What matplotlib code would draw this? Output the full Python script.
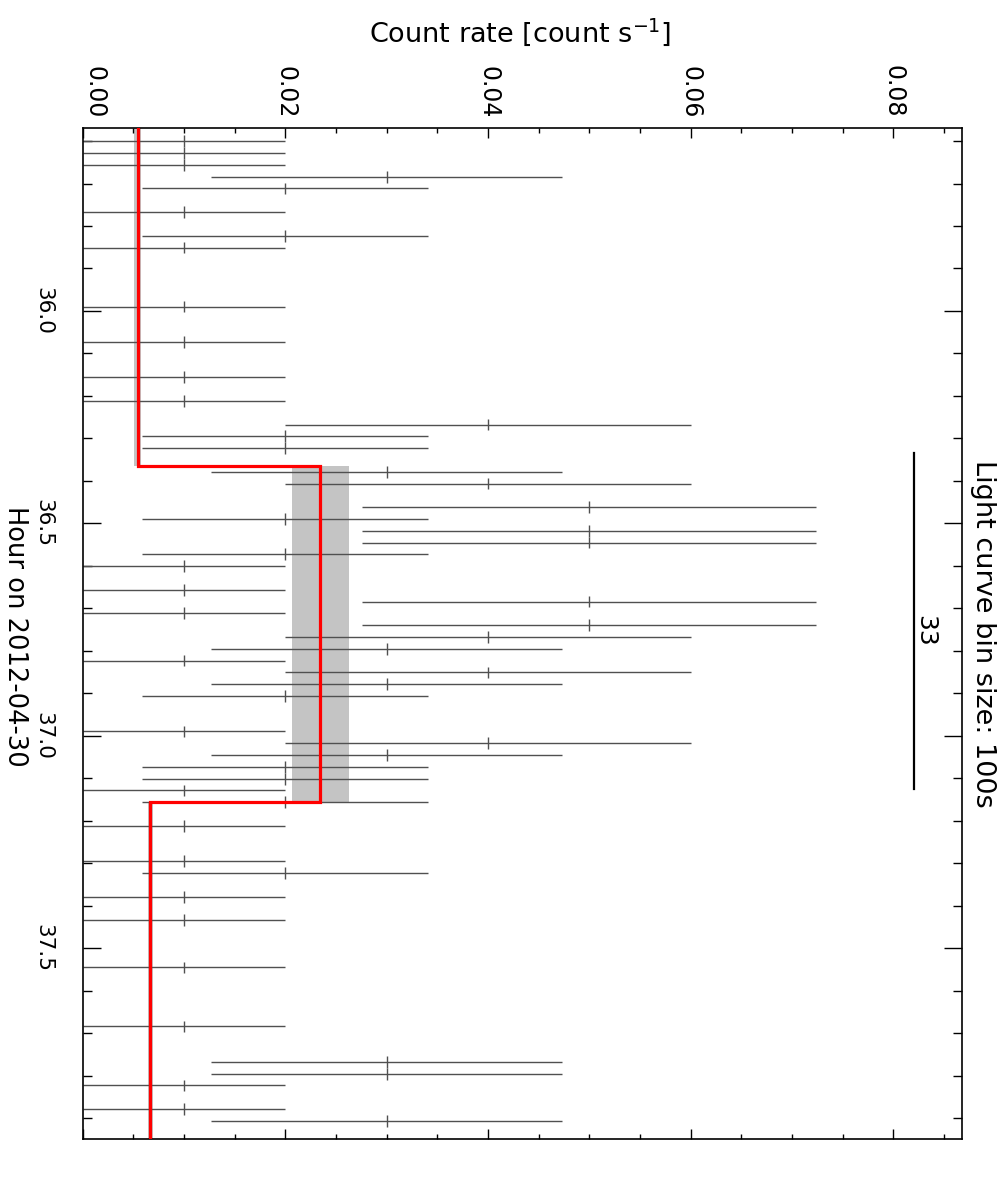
import numpy as np
import matplotlib
matplotlib.use("Agg")
import matplotlib.pyplot as plt
from matplotlib.ticker import MultipleLocator

plt.rcParams['font.family'] = ['DejaVu Sans']

# ---- data ----
# bin centre times (hour on 2012-04-30) and count rates (count/s), 100 s bins
bin_time = [35.6006, 35.6284, 35.6561, 35.6839, 35.7117, 35.7673, 35.8228, 35.8506,
            35.9895, 36.0728, 36.1562, 36.2117, 36.2673, 36.2950, 36.3228, 36.3784,
            36.4062, 36.4617, 36.4895, 36.5173, 36.5450, 36.5728, 36.6006, 36.6562,
            36.6839, 36.7117, 36.7395, 36.7673, 36.7950, 36.8228, 36.8506, 36.8784,
            36.9062, 36.9895, 37.0173, 37.0450, 37.0728, 37.1006, 37.1284, 37.1562,
            37.2117, 37.2950, 37.3228, 37.3784, 37.4339, 37.5450, 37.6839, 37.7673,
            37.7950, 37.8228, 37.8784, 37.9062]
bin_rate = [0.01, 0.01, 0.01, 0.03, 0.02, 0.01, 0.02, 0.01,
            0.01, 0.01, 0.01, 0.01, 0.04, 0.02, 0.02, 0.03,
            0.04, 0.05, 0.02, 0.05, 0.05, 0.02, 0.01, 0.01,
            0.05, 0.01, 0.05, 0.04, 0.03, 0.01, 0.04, 0.03,
            0.02, 0.01, 0.04, 0.03, 0.02, 0.02, 0.01, 0.02,
            0.01, 0.01, 0.02, 0.01, 0.01, 0.01, 0.01, 0.03,
            0.03, 0.01, 0.01, 0.03]
bin_err = [0.0100, 0.0100, 0.0100, 0.0173, 0.0141, 0.0100, 0.0141, 0.0100,
           0.0100, 0.0100, 0.0100, 0.0100, 0.0200, 0.0141, 0.0141, 0.0173,
           0.0200, 0.0224, 0.0141, 0.0224, 0.0224, 0.0141, 0.0100, 0.0100,
           0.0224, 0.0100, 0.0224, 0.0200, 0.0173, 0.0100, 0.0200, 0.0173,
           0.0141, 0.0100, 0.0200, 0.0173, 0.0141, 0.0141, 0.0100, 0.0141,
           0.0100, 0.0100, 0.0141, 0.0100, 0.0100, 0.0100, 0.0100, 0.0173,
           0.0173, 0.0100, 0.0100, 0.0173]
bin_halfwidth_hr = 50.0 / 3600.0

# Bayesian-block style segments
block_edges = [35.5705, 36.3641, 37.1563, 37.9487]
block_rate = [0.00543, 0.02342, 0.00664]
block_lo = [0.00505, 0.02063, 0.00642]
block_hi = [0.00580, 0.02625, 0.00690]

# scale bar
scalebar_rate = [0.0820, 0.0820]
scalebar_time = [36.3349, 37.1257]
scalebar_label = "33"

rate_ticks = [0.00, 0.02, 0.04, 0.06, 0.08]
rate_ticklabels = ["0.00", "0.02", "0.04", "0.06", "0.08"]
time_ticks = [36.0, 36.5, 37.0, 37.5]
time_ticklabels = ["36.0", "36.5", "37.0", "37.5"]

# ---- figure ----
fig = plt.figure(figsize=(10.03, 11.80), dpi=100)
ax = fig.add_axes([0.08245, 0.03475, 0.8764, 0.85636])

# grey uncertainty bands of the blocks
for i in range(len(block_rate)):
    ax.fill_betweenx([block_edges[i], block_edges[i + 1]], block_lo[i], block_hi[i],
                     color='#c4c4c4', lw=0, zorder=1)

# data error bars
ax.errorbar(bin_rate, bin_time, xerr=bin_err, yerr=bin_halfwidth_hr, fmt='none',
            ecolor='#505050', elinewidth=1.0, capsize=0, zorder=2)

# red block line (rotated step)
ys = np.repeat(block_edges, 2)[1:-1]
xs = np.repeat(block_rate, 2)
ax.plot(xs, ys, color='#ff0000', lw=2.3, zorder=3, solid_joinstyle='miter')

# scale bar
ax.plot(scalebar_rate, scalebar_time, color='black', lw=1.6, zorder=3)
ax.text(0.0831, 36.753, scalebar_label, rotation=-90, ha='center', va='center',
        fontsize=18, color='black')

ax.set_xlim(0, 0.08675)
ax.set_ylim(block_edges[-1], block_edges[0])

ax.set_xticks(rate_ticks, labels=rate_ticklabels, rotation=-90, fontsize=17)
ax.set_yticks(time_ticks, labels=time_ticklabels, rotation=-90, va='center', fontsize=15.5)
ax.xaxis.set_minor_locator(MultipleLocator(0.005))
ax.yaxis.set_minor_locator(MultipleLocator(0.1))

ax.tick_params(axis='both', which='both', direction='in', top=True, bottom=True,
               left=True, right=True, labeltop=True, labelbottom=False,
               labelleft=True, labelright=False, color='black', width=1.0)
ax.tick_params(axis='x', which='major', length=7.2, pad=7.6)
ax.tick_params(axis='x', which='minor', length=3.6)
ax.tick_params(axis='y', which='major', length=13, pad=21.0)
ax.tick_params(axis='y', which='minor', length=6.5)

# first rate label is shifted off the corner
ax.get_xticklabels()[0].set_ha('left')

for s in ax.spines.values():
    s.set_linewidth(1.2)
    s.set_color('black')

fig.text(520 / 1003, 1 - 41.7 / 1180, "Count rate [count s$^{-1}$]", ha='center',
         va='baseline', fontsize=19.5, color='black')
fig.text(15 / 1003, 1 - 636.5 / 1180, "Hour on 2012-04-30", rotation=-90,
         ha='center', va='center', fontsize=18.5, color='black')
fig.text(983 / 1003, 1 - 633.5 / 1180, "Light curve bin size: 100s", rotation=-90,
         ha='center', va='center', fontsize=19.5, color='black')

fig.savefig("out.png", dpi=100)
